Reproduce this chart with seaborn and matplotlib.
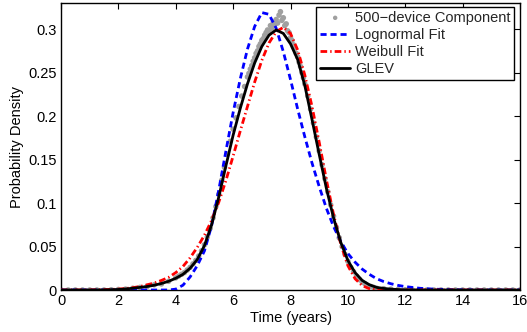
import matplotlib
matplotlib.use("Agg")
import matplotlib.pyplot as plt
import seaborn as sns

# ---------------- data ----------------
t_curve = [0, 1.0, 1.5, 2.0, 2.25, 2.5, 2.75, 3.0, 3.25, 3.5, 3.75, 4.0, 4.25, 4.5, 4.75,
           5.0, 5.25, 5.5, 5.75, 6.0, 6.25, 6.5, 6.75, 7.0, 7.25, 7.5, 7.75, 8.0, 8.25,
           8.5, 8.75, 9.0, 9.25, 9.5, 9.75, 10.0, 10.25, 10.5, 10.75, 11.0, 11.25, 11.5,
           11.75, 12.0, 12.5, 13.0, 13.5, 14.0, 15.0, 16.0]

glev = [0, 0, 0.0001, 0.0006, 0.0012, 0.002, 0.003, 0.004, 0.0055, 0.0075, 0.010, 0.0135,
        0.018, 0.025, 0.035, 0.051, 0.075, 0.107, 0.143, 0.178, 0.209, 0.237, 0.261, 0.280,
        0.293, 0.299, 0.295, 0.283, 0.265, 0.235, 0.196, 0.156, 0.117, 0.083, 0.055, 0.034,
        0.020, 0.011, 0.006, 0.003, 0.0018, 0.001, 0.0005, 0.0002, 0, 0, 0, 0, 0, 0]

lognormal = [0, 0, 0, 0, 0, 0, 0, 0, 0, 0, 0.0, 0.001, 0.0055, 0.015, 0.028, 0.045, 0.074,
             0.115, 0.160, 0.204, 0.243, 0.277, 0.303, 0.319, 0.317, 0.301, 0.274, 0.242,
             0.208, 0.176, 0.146, 0.119, 0.094, 0.073, 0.056, 0.042, 0.032, 0.024, 0.018,
             0.013, 0.0097, 0.0072, 0.0053, 0.0039, 0.002, 0.001, 0.0005, 0.0002, 0, 0]

weibull = [0, 0.0001, 0.0004, 0.001, 0.0017, 0.0027, 0.004, 0.006, 0.008, 0.011, 0.0145,
           0.020, 0.027, 0.037, 0.049, 0.063, 0.080, 0.101, 0.126, 0.154, 0.183, 0.211,
           0.239, 0.264, 0.284, 0.297, 0.302, 0.295, 0.276, 0.247, 0.211, 0.170, 0.127,
           0.087, 0.053, 0.028, 0.013, 0.005, 0.0015, 0.0003, 0, 0, 0, 0, 0, 0, 0, 0, 0, 0]

gray_t = [0, 0.25, 0.5, 0.75, 1.0, 1.25, 1.5, 1.75, 2.0, 2.25, 2.5, 2.75, 3.0, 3.25, 3.5, 3.75,
          4.0, 4.1, 4.2, 4.3, 4.4, 4.5, 4.6, 4.7, 4.8, 4.9, 5.0, 5.1, 5.2, 5.3, 5.4, 5.5,
          5.6, 5.7, 5.8, 5.9, 6.0, 6.1, 6.2, 6.3, 6.4, 6.5, 6.55, 6.6, 6.65, 6.7, 6.75,
          6.8, 6.85, 6.9, 6.95, 7.0, 7.05, 7.1, 7.15, 7.2, 7.25, 7.3, 7.35, 7.4, 7.45,
          7.5, 7.55, 7.6, 7.65, 7.7, 7.75, 7.8, 7.85, 7.9, 7.95, 8.0, 8.05, 8.1, 8.15,
          8.2, 8.25, 8.3, 8.35, 8.4, 8.45, 8.5, 8.6, 8.7, 8.8, 8.9, 9.0, 9.1, 9.2, 9.3,
          9.4, 9.5, 9.6, 9.7, 9.8, 9.9, 10.0, 10.1, 10.2, 10.3, 10.4, 10.5, 10.6, 10.7,
          10.8, 10.9, 11.0, 11.25, 11.5, 11.75, 12.0, 12.25, 12.5, 12.75, 13.0, 13.25,
          13.5, 13.75, 14.0, 14.25, 14.5, 14.75, 15.0, 15.25, 15.5, 15.75, 16.0]

gray_p = [0, 0, 0, 0, 0, 0, 0, 0.0003, 0.0006, 0.001, 0.002, 0.003, 0.004, 0.006, 0.007, 0.010,
          0.014, 0.016, 0.018, 0.020, 0.023, 0.026, 0.030, 0.034, 0.039, 0.045, 0.052, 0.061,
          0.071, 0.083, 0.096, 0.110, 0.126, 0.141, 0.156, 0.171, 0.185, 0.198, 0.211, 0.223,
          0.234, 0.245, 0.249, 0.254, 0.258, 0.263, 0.267, 0.272, 0.275, 0.280, 0.283, 0.287,
          0.289, 0.293, 0.296, 0.299, 0.297, 0.304, 0.301, 0.308, 0.305, 0.311, 0.307, 0.316,
          0.320, 0.310, 0.313, 0.304, 0.306, 0.298, 0.296, 0.290, 0.287, 0.282, 0.278, 0.272,
          0.268, 0.262, 0.257, 0.250, 0.244, 0.237, 0.223, 0.208, 0.192, 0.176, 0.160, 0.144,
          0.128, 0.113, 0.098, 0.085, 0.072, 0.060, 0.050, 0.041, 0.033, 0.026, 0.021, 0.016,
          0.012, 0.009, 0.007, 0.005, 0.004, 0.003, 0.002, 0.0015, 0.001, 0.0006, 0.0003,
          0, 0, 0, 0, 0, 0, 0, 0, 0, 0, 0, 0, 0, 0, 0, 0]

labels = ["500\u2212device Component", "Lognormal Fit", "Weibull Fit", "GLEV"]
x_ticks = [0, 2, 4, 6, 8, 10, 12, 14, 16]
y_ticks = [0, 0.05, 0.1, 0.15, 0.2, 0.25, 0.3]
y_tick_labels = ["0", "0.05", "0.1", "0.15", "0.2", "0.25", "0.3"]

# ---------------- style ----------------
sns.set_theme(style="white")
plt.rcParams["font.family"] = ["Liberation Sans", "DejaVu Sans"]
plt.rcParams["axes.edgecolor"] = "black"
plt.rcParams["axes.linewidth"] = 1.0

FS = 10.5
fig = plt.figure(figsize=(5.27, 3.32), dpi=100)
ax = fig.add_axes([61 / 527, 42 / 332, 459 / 527, 287 / 332])

sns.scatterplot(x=gray_t, y=gray_p, ax=ax, color="#a0a0a0", s=16, marker="o",
                edgecolor="none", linewidth=0, label=labels[0], zorder=2)
sns.lineplot(x=t_curve, y=lognormal, ax=ax, color="#0000ff", linewidth=2.0,
             estimator=None, sort=False, label=labels[1], zorder=3)
ax.lines[-1].set_linestyle((0, (2.2, 1.4)))
sns.lineplot(x=t_curve, y=weibull, ax=ax, color="#ff0000", linewidth=2.0,
             estimator=None, sort=False, label=labels[2], zorder=4)
ax.lines[-1].set_linestyle((0, (2.4, 1.1, 0.5, 1.1)))
sns.lineplot(x=t_curve, y=glev, ax=ax, color="black", linewidth=2.0,
             estimator=None, sort=False, label=labels[3], zorder=5)

ax.set_xlim(0, 16)
ax.set_ylim(0, 0.33)
ax.set_xticks(x_ticks)
ax.set_xticklabels([str(v) for v in x_ticks])
ax.set_yticks(y_ticks)
ax.set_yticklabels(y_tick_labels)
ax.tick_params(direction="in", top=True, right=True, length=4, width=0.8,
               labelsize=FS, pad=3, colors="black")
for s in ax.spines.values():
    s.set_visible(True)
    s.set_color("black")
    s.set_linewidth(1.0)

ax.set_xlabel("Time (years)", fontsize=FS, labelpad=2, color="black")
ax.set_ylabel("Probability Density", fontsize=FS, labelpad=3, color="black")

leg = ax.legend(loc="upper right", bbox_to_anchor=((514 - 61) / 459, (290 - 7) / 287),
                borderaxespad=0, fontsize=FS, frameon=True, fancybox=False,
                framealpha=1, edgecolor="black", handlelength=2.1, handletextpad=0.3,
                labelspacing=0.22, borderpad=0.25, markerscale=0.8)
leg.get_frame().set_linewidth(1.0)

fig.savefig("out.png", dpi=100, facecolor="white")
